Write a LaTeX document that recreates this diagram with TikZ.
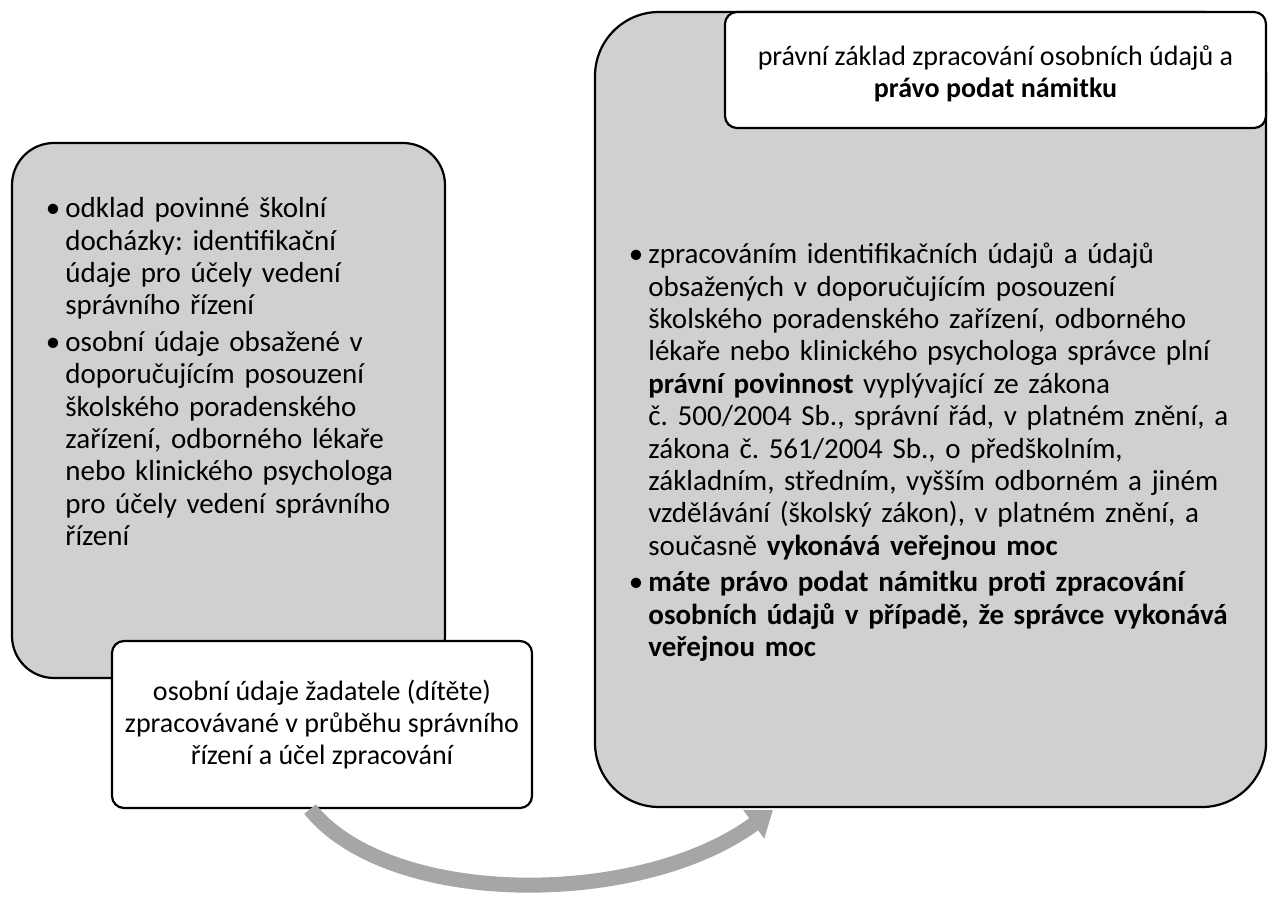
\documentclass[tikz,border=0pt]{standalone}
\usepackage{fontspec}
\setmainfont{Carlito}
\usetikzlibrary{positioning,arrows.meta}

\definecolor{boxgray}{HTML}{D0D0D0}
\definecolor{arrowgray}{HTML}{A6A6A6}

\newcommand{\itembul}{\par\vspace{2pt}\noindent\llap{\textbullet\hspace{2.5pt}}}
\newcommand{\nl}{\hfil\break}
\frenchspacing

\tikzset{
  graybox/.style={draw=black, line width=1.1pt, fill=boxgray, inner sep=0pt},
  whitebox/.style={draw=black, line width=1.1pt, fill=white, rounded corners=6pt,
    inner sep=0pt, align=center, font=\fontsize{14}{16}\selectfont},
  bodytext/.style={inner sep=0pt, align=left, anchor=north west,
    font=\fontsize{14.5}{16.2}\selectfont},
  flow/.style={draw=arrowgray, line width=7.5pt, -{Triangle[width=17pt,length=12pt]}}
}

\begin{document}
\begin{tikzpicture}[x=0.5pt,y=-0.5pt]
\useasboundingbox (0,0) rectangle (1268,897);

% left block
\node[graybox, rounded corners=21pt, minimum width=216.5pt, minimum height=267.5pt] (lbox) at (228.5,410.5) {};
\node[bodytext, text width=200pt] (ltext) at (65,181) {\rightskip=0pt plus 1fil\relax
\itembul\rule{0pt}{12pt}odklad povinné školní\nl docházky: identifikační\nl údaje pro účely vedení\nl správního řízení
\itembul osobní údaje obsažené v\nl doporučujícím posouzení\nl školského poradenského\nl zařízení, odborného lékaře\nl nebo klinického psychologa\nl pro účely vedení správního\nl řízení};
\node[whitebox, minimum width=210pt, minimum height=83.5pt] (lnote) at (322,724.5)
  {\rule{0pt}{8pt}osobní údaje žadatele (dítěte)\\zpracovávané v průběhu správního\\řízení a účel zpracování};

% right block
\node[graybox, rounded corners=32pt, minimum width=335.5pt, minimum height=397.5pt] (rbox) at (930.5,409.5) {};
\node[bodytext, text width=320pt] (rtext) at (648,227) {\rightskip=0pt plus 1fil\relax
\itembul\rule{0pt}{12pt}zpracováním identifikačních údajů a údajů\nl obsažených v doporučujícím posouzení\nl školského poradenského zařízení, odborného\nl lékaře nebo klinického psychologa správce plní\nl \textbf{právní povinnost} vyplývající ze zákona\nl č.~500/2004 Sb., správní řád, v platném znění, a\nl zákona č.~561/2004 Sb., o předškolním,\nl základním, středním, vyšším odborném a jiném\nl vzdělávání (školský zákon), v platném znění, a\nl současně \textbf{vykonává veřejnou moc}
\itembul\textbf{máte právo podat námitku proti zpracování\nl osobních údajů v případě, že správce vykonává\nl veřejnou moc}};
\node[whitebox, minimum width=270.5pt, minimum height=58pt] (rnote) at (995.5,70)
  {\rule{0pt}{14pt}právní základ zpracování osobních údajů a\\\textbf{právo podat námitku}};

% connector
\coordinate (tip) at (773,810);
\draw[flow] ([xshift=-6pt]lnote.south) .. controls (390,908) and (640,908) .. (tip);
\end{tikzpicture}
\end{document}
